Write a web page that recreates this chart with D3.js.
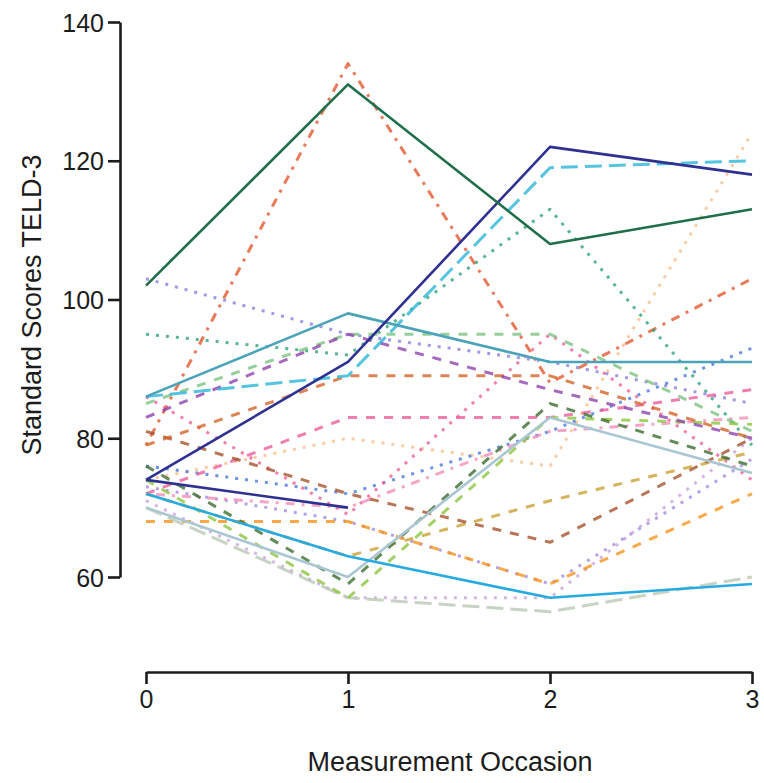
<!DOCTYPE html>
<html>
<head>
<meta charset="utf-8">
<script src="https://cdn.jsdelivr.net/npm/d3@7"></script>
<style>
body{margin:0;background:#fff}
text{font-family:"Liberation Sans",Arial,sans-serif}
</style>
</head>
<body>
<div id="chart"></div>
<script>

// measurement occasions and tick labels
const occasions = [0, 1, 2, 3]
const yTicks = [60, 80, 100, 120, 140]

// one array of TELD-3 scores per child (null = not measured)
const childA = [79, 134, 88, 103]
const childB = [74, 80, 76, 124]
const childC = [95, 92, 113, 79]
const childD = [103, 95, 91, 85]
const childE = [76, 72, 81, 93]
const childF = [73, 68, 59, 77]
const childG = [71, 57, 57, 80]
const childH = [86, 69, 95, 74]
const childI = [72, 70, 81, 83]
const childJ = [72, 83, 83, 87]
const childK = [68, 68, 59, 72]
const childL = [72, 63, 71, 78]
const childM = [70, 57, 55, 60]
const childN = [81, 72, 65, 80]
const childO = [79, 89, 89, 80]
const childP = [85, 95, 95, 81]
const childQ = [74, 57, 83, 82]
const childR = [76, 59, 85, 76]
const childS = [83, 95, 87, 80]
const childT = [86, 89, 119, 120]
const childU = [70, 60, 83, 75]
const childV = [72, 63, 57, 59]
const childW = [86, 98, 91, 91]
const childX = [74, 70, null, null]
const childY = [74, 91, 122, 118]
const childZ = [102, 131, 108, 113]

const series = [childA, childB, childC, childD, childE, childF, childG, childH, childI,
  childJ, childK, childL, childM, childN, childO, childP, childQ, childR, childS,
  childT, childU, childV, childW, childX, childY, childZ]

// styles, same order as series
const lineColors = ["#e4572e", "#f8bf8c", "#2fa37a", "#8a7fe0", "#4a78dc", "#a58be0", "#c9a2dc", "#ef5f95", "#f48fb8",
  "#ec5f9c", "#f7941d", "#c9a233", "#b9c9b5", "#a8522d", "#d4652a", "#7dc383", "#8cc63f", "#3b6e2f", "#8e44ad",
  "#2bb5d9", "#a9c6d3", "#27aae1", "#4aa3b8", "#2e3192", "#2e3192", "#1f6f4a"]
const lineTypes = ["dotdash", "dotted", "dotted", "dotted", "dotted", "dotted", "dotted", "dotted", "dotdash",
  "dashed", "dashed", "dashed", "longdash", "dashed", "dashed", "dashed", "dashed", "dashed", "dashed",
  "longdash", "solid", "solid", "solid", "solid", "solid", "solid"]

const dashes = {
  solid: null,
  dashed: "9,9",
  dotted: "3,7",
  dotdash: "3,7,9,7",
  longdash: "17,7"
}

const width = 764
const height = 783

const svg = d3.select("#chart")
.append("svg")
.attr("width", width)
.attr("height", height)

const x = d3.scaleLinear().domain([0, 3]).range([146, 752])
const y = d3.scaleLinear().domain([60, 140]).range([577, 22])

const line = d3.line()
.defined(d => d != null)
.x((d, i) => x(occasions[i]))
.y(d => y(d))

svg.selectAll("path.child")
.data(series)
.enter()
.append("path")
.attr("class", "child")
.attr("d", d => line(d))
.attr("fill", "none")
.attr("stroke", (d, i) => lineColors[i])
.attr("stroke-width", (d, i) => lineTypes[i] == "solid" ? 2.6 : 3)
.attr("stroke-dasharray", (d, i) => dashes[lineTypes[i]])
.attr("stroke-opacity", (d, i) => lineTypes[i] == "solid" ? 1 : 0.8)
.attr("stroke-linejoin", "round")

// y axis
const yAxis = svg.append("g")
.attr("transform", "translate(120,0)")
.call(d3.axisLeft(y).tickValues(yTicks).tickSize(12).tickSizeOuter(0).tickPadding(4))

// x axis
const xAxis = svg.append("g")
.attr("transform", "translate(0,672)")
.call(d3.axisBottom(x).tickValues(occasions).tickFormat(d3.format("d")).tickSize(12).tickSizeOuter(0).tickPadding(6))

svg.selectAll(".domain, .tick line")
.attr("stroke", "#1c1c1c")
.attr("stroke-width", 2.6)

svg.selectAll(".tick text")
.attr("fill", "#1c1c1c")
.attr("font-size", "25px")
.attr("font-family", "Liberation Sans, Arial, sans-serif")

yAxis.selectAll(".tick text").attr("dy", "0.36em")

svg.append("text")
.attr("transform", "translate(41,305) rotate(-90)")
.attr("text-anchor", "middle")
.attr("font-size", "27px")
.attr("fill", "#1c1c1c")
.text("Standard Scores TELD-3")

svg.append("text")
.attr("x", 450)
.attr("y", 771)
.attr("text-anchor", "middle")
.attr("font-size", "27px")
.attr("fill", "#1c1c1c")
.text("Measurement Occasion")

</script>
</body>
</html>
